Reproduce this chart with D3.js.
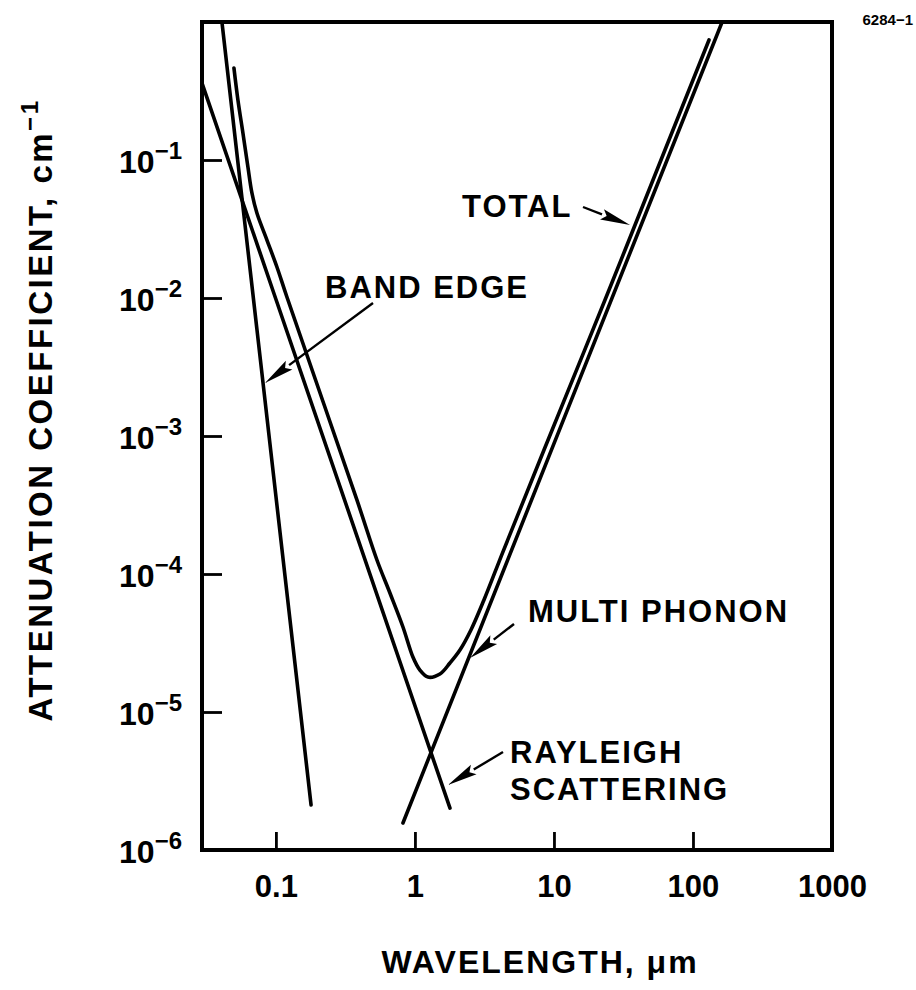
<!DOCTYPE html>
<html>
<head>
<meta charset="utf-8">
<script src="https://cdn.jsdelivr.net/npm/d3@7.9.0/dist/d3.min.js"></script>
<style>
  html, body { margin: 0; padding: 0; background: #fff; }
  svg text { font-family: 'Liberation Sans', Arial, Helvetica, sans-serif; font-weight: bold; fill: #000; }
</style>
</head>
<body>
<svg id="chart" width="916" height="990"></svg>
<script>
// wavelength (um) vs attenuation coefficient (cm^-1)
const bandEdge = [[0.0409, 1.0], [0.179, 2.12e-6]];
const rayleigh = [[0.0294, 0.361], [0.1, 0.0098], [1.787, 2.01e-6]];
const multiPhonon = [[0.82, 1.57e-6], [10, 8.8e-4], [162, 1.0]];
const total = [
  [0.0499, 0.464], [0.0533, 0.272], [0.0579, 0.157], [0.0629, 0.089],
  [0.0672, 0.0577], [0.073, 0.0413], [0.0862, 0.0263], [0.1017, 0.01678],
  [0.12, 0.01017], [0.3825, 3.44e-4], [0.533, 1.263e-4], [0.661, 7.28e-5],
  [0.82, 4.13e-5], [0.967, 2.5e-5], [1.086, 2.01e-5], [1.241, 1.79e-5],
  [1.513, 1.886e-5], [1.786, 2.265e-5], [2.107, 2.813e-5], [2.529, 3.93e-5],
  [3.136, 6.48e-5], [4.346, 1.49e-4], [8.476, 7.92e-4], [23.28, 9.67e-3],
  [62.89, 0.1181], [130.4, 0.741]
];
const xTicks = [0.1, 1, 10, 100, 1000];
const xTickLabels = ['0.1', '1', '10', '100', '1000'];
const yTicks = [1e-1, 1e-2, 1e-3, 1e-4, 1e-5, 1e-6];
const yTickExps = ['−1', '−2', '−3', '−4', '−5', '−6'];

const svg = d3.select('#chart');
const plotL = 202, plotR = 832, plotT = 22, plotB = 850;

const x = d3.scaleLog().domain([0.0294, 1000]).range([plotL, plotR]);
const y = d3.scaleLog().domain([1e-6, 1]).range([plotB, plotT]);

svg.append('defs').append('clipPath').attr('id', 'plot-clip')
  .append('rect').attr('x', plotL).attr('y', plotT)
  .attr('width', plotR - plotL).attr('height', plotB - plotT);

// inward ticks
let xAxis = svg.append('g')
  .attr('transform', `translate(0,${plotB})`)
  .call(d3.axisBottom(x).tickValues(xTicks).tickSize(-18).tickPadding(25)
    .tickFormat((d, i) => xTickLabels[i]));
xAxis.select('.domain').remove();
xAxis.selectAll('line').attr('stroke', '#000').attr('stroke-width', 2.8);
xAxis.selectAll('text').attr('font-size', 31).attr('fill', '#000')
  .style('font-family', 'Liberation Sans, Arial, sans-serif')
  .style('font-weight', 'bold');

let yAxis = svg.append('g')
  .attr('transform', `translate(${plotL},0)`)
  .call(d3.axisLeft(y).tickValues(yTicks).tickSize(-20).tickFormat(() => ''));
yAxis.select('.domain').remove();
yAxis.selectAll('line').attr('stroke', '#000').attr('stroke-width', 2.8);

let yLabels = svg.append('g').selectAll('text')
  .data(yTicks)
  .join('text')
  .attr('x', 182)
  .attr('y', (d) => y(d) + 13)
  .attr('text-anchor', 'end')
  .attr('font-size', 32);
yLabels.append('tspan').text('10');
yLabels.append('tspan').attr('dy', -14).attr('font-size', 24)
  .text((d, i) => yTickExps[i]);

// frame
svg.append('rect')
  .attr('x', plotL).attr('y', plotT)
  .attr('width', plotR - plotL).attr('height', plotB - plotT)
  .attr('fill', 'none').attr('stroke', '#000').attr('stroke-width', 4);

let line = d3.line().x((d) => x(d[0])).y((d) => y(d[1]));
let smooth = d3.line().x((d) => x(d[0])).y((d) => y(d[1])).curve(d3.curveCatmullRom.alpha(0.5));

let curves = svg.append('g').attr('clip-path', 'url(#plot-clip)')
  .attr('fill', 'none').attr('stroke', '#000').attr('stroke-width', 3.6)
  .attr('stroke-linecap', 'round');
curves.append('path').attr('d', line(bandEdge));
curves.append('path').attr('d', line(rayleigh));
curves.append('path').attr('d', line(multiPhonon));
curves.append('path').attr('d', smooth(total));

// labels with arrows
const notes = [
  { lines: ['TOTAL'], tx: 462, ty: 217, from: [583, 207], to: [630, 225] },
  { lines: ['BAND EDGE'], tx: 325, ty: 298, from: [373, 303], to: [265, 383] },
  { lines: ['MULTI PHONON'], tx: 528, ty: 622, from: [514, 624], to: [470, 658] },
  { lines: ['RAYLEIGH', 'SCATTERING'], tx: 510, ty: 763, from: [503, 752], to: [448, 785] }
];

notes.forEach((n) => {
  n.lines.forEach((t, i) => {
    svg.append('text')
      .attr('x', n.tx).attr('y', n.ty + i * 37)
      .attr('font-size', 31)
      .style('letter-spacing', '2px')
      .text(t);
  });
  let [x0, y0] = n.from, [x1, y1] = n.to;
  let ang = Math.atan2(y1 - y0, x1 - x0);
  let len = 30, half = 5.5;
  let bx = x1 - len * Math.cos(ang), by = y1 - len * Math.sin(ang);
  svg.append('line')
    .attr('x1', x0).attr('y1', y0).attr('x2', bx).attr('y2', by)
    .attr('stroke', '#000').attr('stroke-width', 2.4);
  let pts = [
    [x1, y1],
    [bx - half * Math.sin(ang), by + half * Math.cos(ang)],
    [bx + 5 * Math.cos(ang), by + 5 * Math.sin(ang)],
    [bx + half * Math.sin(ang), by - half * Math.cos(ang)]
  ];
  svg.append('path').attr('d', 'M' + pts.map((p) => p.join(',')).join('L') + 'Z')
    .attr('fill', '#000');
});

// axis titles
svg.append('text')
  .attr('x', 540).attr('y', 973)
  .attr('text-anchor', 'middle')
  .attr('font-size', 32)
  .style('letter-spacing', '2px')
  .text('WAVELENGTH, μm');

let yTitle = svg.append('text')
  .attr('transform', 'translate(52,410) rotate(-90)')
  .attr('text-anchor', 'middle')
  .attr('font-size', 33)
  .style('letter-spacing', '2.5px');
yTitle.append('tspan').text('ATTENUATION COEFFICIENT, cm');
yTitle.append('tspan').attr('dy', -14).attr('font-size', 24).text('−1');

svg.append('text')
  .attr('x', 913).attr('y', 25)
  .attr('text-anchor', 'end')
  .attr('font-size', 15)
  .style('font-weight', 900)
  .text('6284−1');
</script>
</body>
</html>
